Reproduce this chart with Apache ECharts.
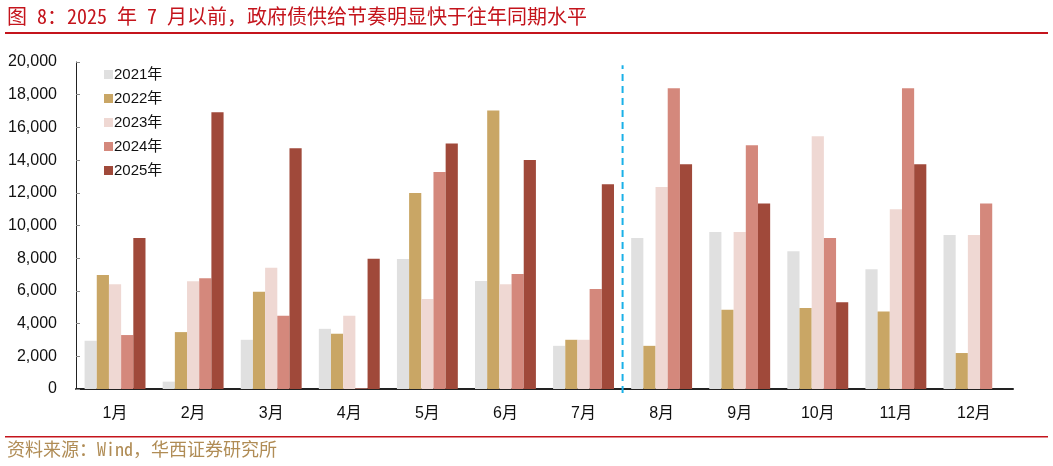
<!DOCTYPE html>
<html>
<head>
<meta charset="utf-8">
<script src="https://cdn.jsdelivr.net/npm/echarts@6/dist/echarts.min.js"></script>
<style>
  html, body { margin: 0; padding: 0; background: #fff; }
  #chart { width: 1053px; height: 466px; }
</style>
</head>
<body>
<div id="chart"></div>
<script>
// months on the x axis
const months = ["1月", "2月", "3月", "4月", "5月", "6月", "7月", "8月", "9月", "10月", "11月", "12月"];
const yearNames = ["2021年", "2022年", "2023年", "2024年", "2025年"];

// government bond supply by month
const y2021 = [2950, 450, 3010, 3680, 7950, 6610, 2640, 9240, 9600, 8420, 7330, 9420];
const y2022 = [6980, 3480, 5950, 3380, 11990, 17030, 3010, 2640, 4840, 4950, 4740, 2200];
const y2023 = [6410, 6590, 7410, 4480, 5510, 6410, 3010, 12350, 9600, 15460, 10990, 9420];
const y2024 = [3300, 6780, 4480, 40, 13270, 7040, 6120, 18390, 14910, 9240, 18390, 11350];
const y2025 = [9240, 16930, 14730, 7960, 15020, 14000, 12530, 13740, 11350, 5310, 13740, null];

const colors = ["#e0e0e0", "#c9a665", "#efd8d3", "#d4887c", "#a0493a"];
const yearData = [y2021, y2022, y2023, y2024, y2025];

// marker between July and August
const splitAt = 7;

const chart = echarts.init(document.getElementById("chart"));
const font = "Liberation Sans, Arial, Noto Sans CJK SC, sans-serif";
const monoCjk = "'Noto Sans Mono CJK SC', 'Noto Sans CJK SC', sans-serif";

const barSeries = yearNames.map((name, i) => ({
  name: name,
  type: "bar",
  data: yearData[i],
  barGap: "0%",
  barCategoryGap: "22%",
  itemStyle: { color: colors[i] }
}));

chart.setOption({
  animation: false,
  textStyle: { fontFamily: font },
  grid: { left: 76, right: 40, top: 62, bottom: 77 },
  legend: {
    data: yearNames,
    orient: "vertical",
    left: 99,
    top: 62,
    itemWidth: 9,
    itemHeight: 9,
    itemGap: 9,
    icon: "rect",
    textStyle: { fontSize: 15, color: "#111", fontFamily: font, padding: [0, 0, 0, -4] }
  },
  xAxis: [
    {
      type: "category",
      data: months,
      axisLine: { lineStyle: { color: "#222", width: 2 } },
      axisTick: { inside: true, length: 4, lineStyle: { color: "#222" } },
      axisLabel: { color: "#111", fontSize: 16, margin: 17 }
    },
    {
      type: "value",
      min: 0,
      max: 12,
      show: false
    }
  ],
  yAxis: {
    type: "value",
    min: 0,
    max: 20000,
    interval: 2000,
    axisLine: { show: true, lineStyle: { color: "#222", width: 1 } },
    axisTick: { show: true, inside: true, length: 4, lineStyle: { color: "#888" } },
    splitLine: { show: false },
    axisLabel: {
      color: "#111",
      fontSize: 16,
      margin: 19,
      formatter: (v) => v.toLocaleString("en-US")
    }
  },
  series: [
    ...barSeries,
    {
      name: "split",
      type: "line",
      xAxisIndex: 1,
      data: [[splitAt, -250], [splitAt, 19800]],
      symbol: "none",
      clip: false,
      silent: true,
      z: 5,
      lineStyle: { color: "#1ab0e8", width: 2, type: [7, 5] }
    }
  ],
  graphic: [
    {
      type: "text",
      left: 7,
      top: 6,
      style: {
        text: "图 8：2025 年 7 月以前，政府债供给节奏明显快于往年同期水平",
        fill: "#c4141c",
        font: "20px " + monoCjk
      }
    },
    {
      type: "rect",
      shape: { x: 5, y: 32, width: 1043, height: 2 },
      style: { fill: "#c4141c" }
    },
    {
      type: "rect",
      shape: { x: 5, y: 436, width: 1043, height: 1.5 },
      style: { fill: "#c4141c" }
    },
    {
      type: "text",
      left: 7,
      top: 440,
      style: {
        text: "资料来源：Wind，华西证券研究所",
        fill: "#b08c55",
        font: "18px " + monoCjk
      }
    }
  ]
});
</script>
</body>
</html>
